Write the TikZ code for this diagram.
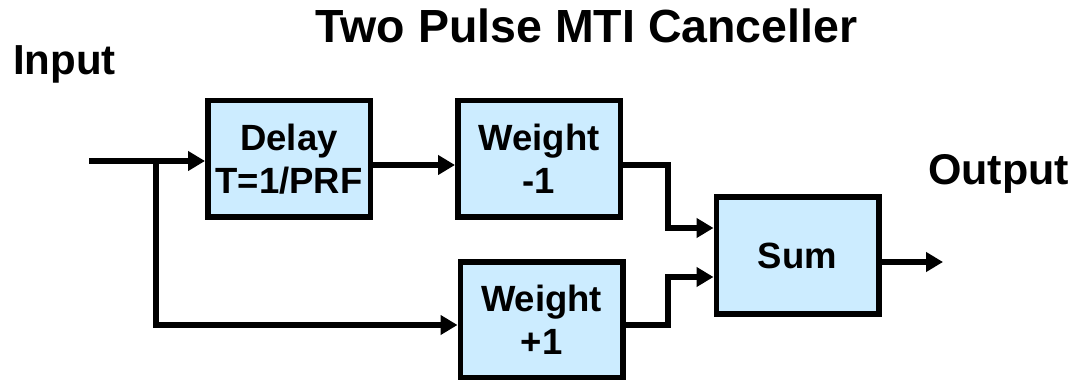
\documentclass[tikz,border=0pt]{standalone}
\usepackage{fontspec}
\setmainfont{Liberation Sans}
\usetikzlibrary{arrows.meta}
\definecolor{boxfill}{RGB}{204,236,255}
\begin{document}
\begin{tikzpicture}[x=1pt,y=-1pt,
  blk/.style={draw=black, line width=5.5pt, fill=boxfill, minimum width=162.5pt, minimum height=116.5pt,
    inner sep=0pt, align=center, font=\fontsize{36.5}{43}\selectfont\bfseries},
  wire/.style={line width=5.5pt},
  arr/.style={wire, -{Triangle[length=17pt,width=19pt]}},
  lbl/.style={font=\fontsize{42}{48}\selectfont\bfseries, anchor=base west, inner sep=0pt}]
\useasboundingbox (0,0) rectangle (1079,382);
\node[font=\fontsize{46.5}{52}\selectfont\bfseries, anchor=base, inner sep=0pt] (title) at (586.5,43) {Two Pulse MTI Canceller};
\node[lbl] (inlbl) at (13,75) {Input};
\node[lbl, font=\fontsize{43}{48}\selectfont\bfseries] (outlbl) at (928,185) {Output};
\node[blk] (delay) at (289,159) {Delay\\T=1/PRF};
\node[blk] (wm) at (539,159) {Weight\\-1};
\node[blk, minimum height=115.5pt] (wp) at (541.5,319.5) {Weight\\+1};
\node[blk] (sum) at (797.5,255.5) {Sum};
\coordinate (in) at (89,161);
\coordinate (br) at (156,161);
\coordinate (out) at (943,262);
\draw[arr] (in) -- ([yshift=-2pt]delay.west);
\draw[wire] (br) -- (156,325) coordinate (brb);
\draw[arr] ([xshift=-2.75pt]brb) -- ([yshift=-5.5pt]wp.west);
\draw[arr] ([yshift=-6pt]delay.east) -- ([yshift=-6pt]wm.west);
\draw[arr, line join=miter] ([yshift=-6pt]wm.east) -| (668,228) -- ([yshift=27.5pt]sum.west);
\draw[arr, line join=miter] ([yshift=-5.5pt]wp.east) -| (668,277) -- ([yshift=-21.5pt]sum.west);
\draw[arr] ([yshift=-6.5pt]sum.east) -- (out);
\end{tikzpicture}
\end{document}
